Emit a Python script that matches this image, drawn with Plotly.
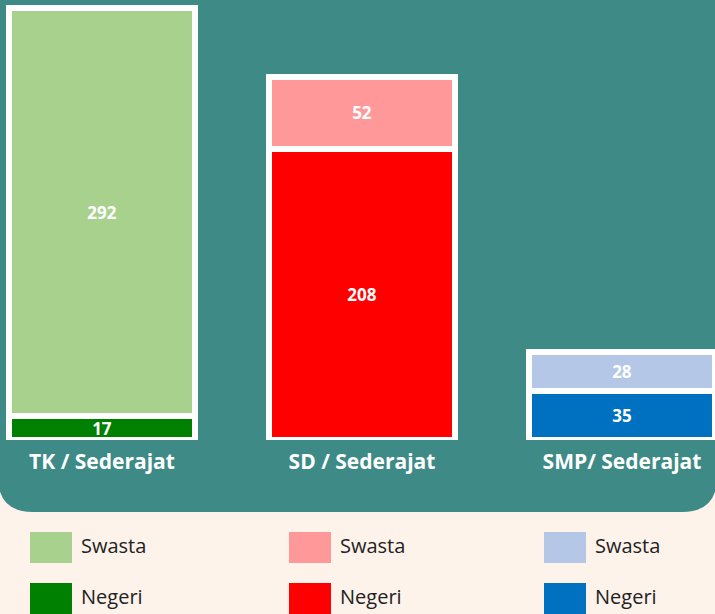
import plotly.graph_objects as go

# ---- data ----
categories = ["TK / Sederajat", "SD / Sederajat", "SMP/ Sederajat"]
negeri = [17, 208, 35]
swasta = [292, 52, 28]
negeri_colors = ["#008000", "#FF0000", "#0070C0"]
swasta_colors = ["#A9D18E", "#FF9999", "#B4C7E7"]
legend_labels = ["Swasta", "Negeri"]

# ---- layout constants (pixels) ----
W, H = 715, 614
PLOT_H = 440
TEAL = "#3D8A87"
CREAM = "#FDF3EA"


def px_x(px):
    return px / W


def px_y(py):
    return (PLOT_H - py) / PLOT_H


fig = go.Figure()
fig.add_trace(go.Bar(
    x=categories, y=negeri, name="Negeri",
    marker=dict(color=negeri_colors, line=dict(color="white", width=6)),
    text=[str(v) for v in negeri], textposition="inside", insidetextanchor="middle",
    textangle=0,
    textfont=dict(family="Open Sans", size=17, color="white", weight="bold"),
    width=0.7154, showlegend=False, hoverinfo="skip",
))
fig.add_trace(go.Bar(
    x=categories, y=swasta, name="Swasta",
    marker=dict(color=swasta_colors, line=dict(color="white", width=6)),
    text=[str(v) for v in swasta], textposition="inside", insidetextanchor="middle",
    textangle=0,
    textfont=dict(family="Open Sans", size=17, color="white", weight="bold"),
    width=0.7154, showlegend=False, hoverinfo="skip",
))

# teal panel with rounded bottom corners
r_x, r_y = 35, 35
bottom = 512
path = (
    f"M {px_x(-2)} {px_y(-5)} "
    f"L {px_x(W + 2)} {px_y(-5)} "
    f"L {px_x(W + 2)} {px_y(bottom - r_y)} "
    f"Q {px_x(W + 2)} {px_y(bottom)} {px_x(W + 2 - r_x)} {px_y(bottom)} "
    f"L {px_x(r_x - 2)} {px_y(bottom)} "
    f"Q {px_x(-2)} {px_y(bottom)} {px_x(-2)} {px_y(bottom - r_y)} Z"
)
shapes = [dict(type="path", path=path, xref="paper", yref="paper",
               fillcolor=TEAL, line=dict(width=0), layer="below")]

annotations = []
col_left = [30, 289, 544]
row_top = [532, 583]
sw, sh = 42, 31
for ci in range(len(categories)):
    cols = [swasta_colors[ci], negeri_colors[ci]]
    for ri, lab in enumerate(legend_labels):
        x0, y0 = col_left[ci], row_top[ri]
        shapes.append(dict(type="rect", xref="paper", yref="paper",
                           x0=px_x(x0), x1=px_x(x0 + sw),
                           y0=px_y(y0 + sh), y1=px_y(y0),
                           fillcolor=cols[ri], line=dict(width=0)))
        annotations.append(dict(x=px_x(x0 + 49), y=px_y(y0 + sh / 2 - 2),
                                xref="paper", yref="paper", text=lab,
                                showarrow=False, xanchor="left", yanchor="middle",
                                font=dict(family="Open Sans", size=20, color="#222222")))

fig.update_layout(
    width=W, height=H,
    margin=dict(l=0, r=0, t=0, b=H - PLOT_H, pad=0),
    barmode="stack",
    paper_bgcolor=CREAM,
    plot_bgcolor="rgba(0,0,0,0)",
    shapes=shapes,
    annotations=annotations,
    uniformtext=dict(minsize=17, mode="show"),
    xaxis=dict(range=[-0.3923, 2.3577], showgrid=False, zeroline=False,
               showline=False, ticks="", ticklabelstandoff=7,
               tickfont=dict(family="Open Sans", size=21, color="white", weight="bold")),
    yaxis=dict(range=[0, PLOT_H / 1.398], showgrid=False, zeroline=False,
               showline=False, showticklabels=False),
)

fig.write_html("out.html",
               config={"displayModeBar": False},
               post_script="document.body.style.margin='0';document.body.style.overflow='hidden';")
